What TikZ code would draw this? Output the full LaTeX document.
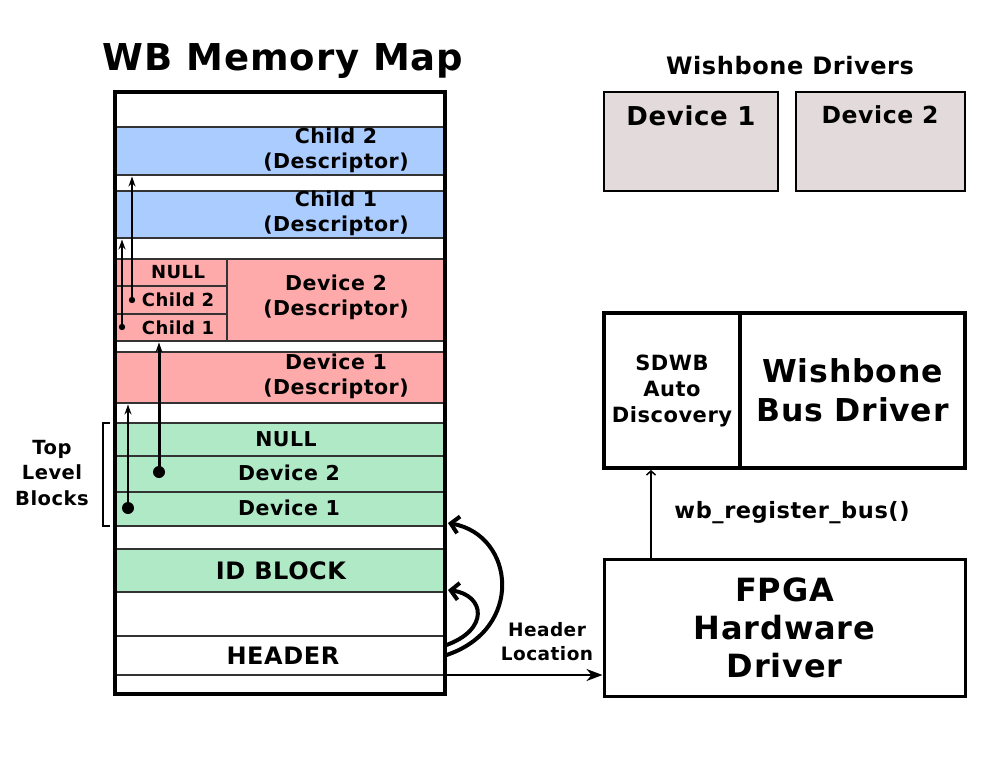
\documentclass[tikz,border=0pt]{standalone}
\usepackage{fontspec}
\setmainfont{DejaVu Sans}[LetterSpace = 2.5]
\usetikzlibrary{arrows.meta, calc}

\definecolor{descblue}{HTML}{AACCFF}
\definecolor{descred}{HTML}{FFAAAA}
\definecolor{blockgreen}{HTML}{AFE9C6}
\definecolor{drvgray}{HTML}{E3DBDB}
\definecolor{rowline}{HTML}{333333}

\newcommand{\fsz}[2]{\fontsize{#1}{#2}\selectfont\bfseries}

\begin{document}
\begin{tikzpicture}[x = 1pt, y = -1pt,
		row/.style = {draw = rowline,
					  line width = 1.3pt,
					  minimum width = 330pt,
					  inner sep = 0pt,
					  outer sep = 0pt,
					  anchor = north west},
		cell/.style = {row,
					   fill = descred,
					   minimum width = 112pt},
		frame/.style = {draw = black,
						line width = 4pt,
						minimum width = 330pt,
						minimum height = 602pt,
						inner sep = 0pt,
						outer sep = 0pt,
						anchor = north west},
		drvbox/.style = {draw = black,
						 fill = drvgray,
						 line width = 1.3pt,
						 inner sep = 0pt,
						 outer sep = 0pt,
						 anchor = north west},
		bigbox/.style = {draw = black,
						 line width = 4pt,
						 align = center,
						 inner sep = 0pt,
						 outer sep = 0pt,
						 anchor = north west},
		lbl/.style = {align = center,
					  inner sep = 0pt,
					  font = \fsz{20.5}{25}},
		ptr/.style = {-{Stealth[length = 10pt, width = 7pt]},
					  line width = 2pt},
		backptr/.style = {-{Straight Barb[length = 8pt, width = 17pt]},
						  line width = 4pt},
	]
	\useasboundingbox (0, 0) rectangle (990, 765);

	% memory map
	\draw (283, 61) node[lbl, font = \fsz{37}{44}](maptitle){WB Memory Map};

	\draw (115, 127) node[row, fill = descblue, minimum height = 48pt](c2desc){};
	\draw (115, 191) node[row, fill = descblue, minimum height = 47pt](c1desc){};
	\draw (115, 259) node[row, fill = descred, minimum height = 82pt](d2desc){};
	\draw (115, 259) node[cell, minimum height = 27pt](nullcell){};
	\draw (115, 286) node[cell, minimum height = 28pt](c2cell){};
	\draw (115, 314) node[cell, minimum height = 27pt](c1cell){};
	\draw (115, 352) node[row, fill = descred, minimum height = 51pt](d1desc){};
	\draw (115, 423) node[row, fill = blockgreen, minimum height = 33pt](topnull){};
	\draw (115, 456) node[row, fill = blockgreen, minimum height = 36pt](topdev2){};
	\draw (115, 492) node[row, fill = blockgreen, minimum height = 34pt](topdev1){};
	\draw (115, 549) node[row, fill = blockgreen, minimum height = 43pt](idblock){};
	\draw (115, 636) node[row, minimum height = 39pt](header){};
	\draw (115, 92) node[frame](map){};

	\draw (336, 150) node[lbl](c2desctxt){Child 2\\(Descriptor)};
	\draw (336, 213) node[lbl](c1desctxt){Child 1\\(Descriptor)};
	\draw (336, 297) node[lbl](d2desctxt){Device 2\\(Descriptor)};
	\draw (336, 376) node[lbl](d1desctxt){Device 1\\(Descriptor)};
	\draw (178, 272) node[lbl, font = \fsz{18}{22}](nulltxt){NULL};
	\draw (178, 300) node[lbl, font = \fsz{18}{22}](c2celltxt){Child 2};
	\draw (178, 328) node[lbl, font = \fsz{18}{22}](c1celltxt){Child 1};
	\draw (286, 439) node[lbl](topnulltxt){NULL};
	\draw (289, 473) node[lbl](topdev2txt){Device 2};
	\draw (289, 508) node[lbl](topdev1txt){Device 1};
	\draw (281, 571) node[lbl, font = \fsz{24}{28}](idtxt){ID BLOCK};
	\draw (283, 656) node[lbl, font = \fsz{24}{28}](headertxt){HEADER};

	% pointers inside the map
	\coordinate (dotdev1) at (128, 508);
	\coordinate (dotdev2) at (159, 472);
	\coordinate (dotchild1) at (122, 327);
	\coordinate (dotchild2) at (132, 300);
	\fill (dotdev1) circle (6pt);
	\fill (dotdev2) circle (6pt);
	\fill (dotchild1) circle (3.2pt);
	\fill (dotchild2) circle (3.2pt);
	\draw[ptr, line width = 2.5pt, shorten > = 1.5pt] (dotdev1) -- (dotdev1 |- d1desc.south);
	\draw[ptr, line width = 3pt, shorten > = 1.5pt] (dotdev2) -- (dotdev2 |- d2desc.south);
	\draw[ptr, shorten > = 1.5pt] (dotchild1) -- (dotchild1 |- c1desc.south);
	\draw[ptr, shorten > = 1.5pt] (dotchild2) -- (dotchild2 |- c2desc.south);

	% top level bracket
	\draw[line width = 2pt] ($(topnull.north west)+(-5, 0)$) -- ($(topnull.north west)+(-12, 0)$)
		-- ($(topdev1.south west)+(-12, 0)$) -- ($(topdev1.south west)+(-5, 0)$);
	\draw (52, 473) node[lbl, font = \fsz{19.5}{25.5}](toptxt){Top\\Level\\Blocks};

	% header back pointers
	\draw[backptr] (header.east) .. controls (525, 630) and (515, 535) .. ($(topdev1.south east)+(3, -3)$);
	\draw[backptr] ($(header.east)+(0, -10)$) .. controls (490, 630) and (485, 595) .. ($(idblock.south east)+(3, -2)$);

	% drivers
	\draw (790, 66) node[lbl, font = \fsz{24}{28}](drvtitle){Wishbone Drivers};
	\draw (604, 92) node[drvbox, minimum width = 174pt, minimum height = 99pt](drv1){};
	\draw (796, 92) node[drvbox, minimum width = 169pt, minimum height = 99pt](drv2){};
	\draw (691, 116) node[lbl, font = \fsz{26}{30}](drv1txt){Device 1};
	\draw (880, 115) node[lbl, font = \fsz{23.5}{28}](drv2txt){Device 2};

	\draw (604, 313) node[bigbox,
						  minimum width = 136pt,
						  minimum height = 155pt,
						  font = \fsz{21}{26}
				   ](sdwb){SDWB\\Auto\\Discovery};
	\draw (740, 313) node[bigbox,
						  minimum width = 225pt,
						  minimum height = 155pt,
						  font = \fsz{31.5}{39}
				   ](busdrv){Wishbone\\Bus Driver};
	\draw (604, 559) node[bigbox,
						  line width = 3pt,
						  minimum width = 361pt,
						  minimum height = 137pt,
						  font = \fsz{32}{38}
				   ](fpga){FPGA\\Hardware\\Driver};

	\draw[-{Straight Barb[length = 4pt, width = 9pt]}, line width = 1.5pt, shorten > = 2pt]
		($(fpga.north west)+(47, 0)$) -- ($(sdwb.south west)+(47, 0)$);
	\draw (792, 513) node[lbl, font = \fsz{22.5}{27}](regtxt){wb\_register\_bus()};

	\draw[-{Stealth[length = 16pt, width = 12pt, inset = 5pt]}, line width = 2pt, shorten > = 1.5pt]
		(header.south east) -- (header.south east -| fpga.west);
	\draw (547, 642) node[lbl, font = \fsz{18.5}{24}](loctxt){Header\\Location};
\end{tikzpicture}
\end{document}
